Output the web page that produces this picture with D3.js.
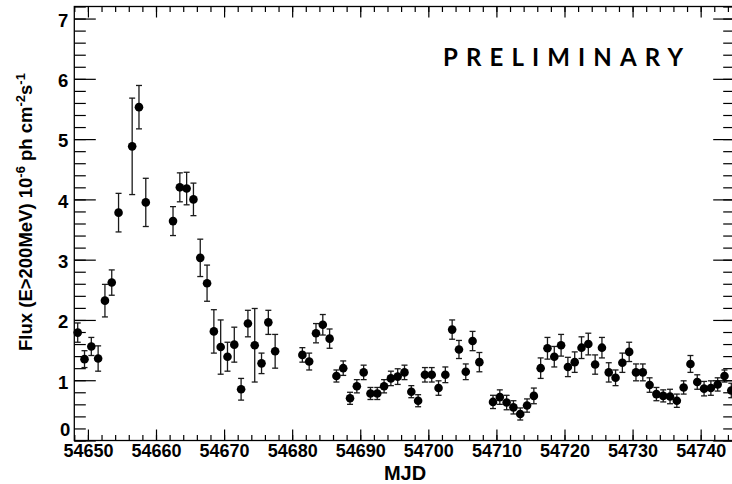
<!DOCTYPE html>
<html>
<head>
<meta charset="utf-8">
<script src="https://cdn.jsdelivr.net/npm/d3@7"></script>
<style>
  html, body { margin: 0; padding: 0; background: #fff; }
  svg { display: block; }
  .tick text { font-family: "Liberation Sans", Arial, sans-serif; font-weight: bold; }
</style>
</head>
<body>
<svg id="chart" width="732" height="484"></svg>
<script>
// Daily light curve: MJD bin centres, flux (1e-6 ph cm^-2 s^-1) and 1-sigma errors
const mjd = [
  54648.5, 54649.5, 54650.5, 54651.5, 54652.5, 54653.5, 54654.5, 54656.5, 54657.5, 54658.5,
  54662.5, 54663.5, 54664.5, 54665.5, 54666.5, 54667.5, 54668.5, 54669.5, 54670.5, 54671.5,
  54672.5, 54673.5, 54674.5, 54675.5, 54676.5, 54677.5, 54681.5, 54682.5, 54683.5, 54684.5,
  54685.5, 54686.5, 54687.5, 54688.5, 54689.5, 54690.5, 54691.5, 54692.5, 54693.5, 54694.5,
  54695.5, 54696.5, 54697.5, 54698.5, 54699.5, 54700.5, 54701.5, 54702.5, 54703.5, 54704.5,
  54705.5, 54706.5, 54707.5, 54709.5, 54710.5, 54711.5, 54712.5, 54713.5, 54714.5, 54715.5,
  54716.5, 54717.5, 54718.5, 54719.5, 54720.5, 54721.5, 54722.5, 54723.5, 54724.5, 54725.5,
  54726.5, 54727.5, 54728.5, 54729.5, 54730.5, 54731.5, 54732.5, 54733.5, 54734.5, 54735.5,
  54736.5, 54737.5, 54738.5, 54739.5, 54740.5, 54741.5, 54742.5, 54743.5, 54744.5
];
const flux = [
  1.79, 1.35, 1.56, 1.36, 2.32, 2.62, 3.78, 4.88, 5.53, 3.95,
  3.64, 4.20, 4.18, 4.00, 3.03, 2.61, 1.81, 1.55, 1.39, 1.59,
  0.85, 1.94, 1.58, 1.28, 1.96, 1.48, 1.42, 1.31, 1.78, 1.92,
  1.69, 1.07, 1.20, 0.70, 0.90, 1.13, 0.78, 0.78, 0.90, 1.03,
  1.06, 1.13, 0.81, 0.66, 1.09, 1.09, 0.87, 1.09, 1.84, 1.51,
  1.14, 1.65, 1.30, 0.64, 0.72, 0.63, 0.55, 0.44, 0.58, 0.74,
  1.20, 1.53, 1.39, 1.58, 1.22, 1.30, 1.54, 1.60, 1.26, 1.54,
  1.13, 1.04, 1.29, 1.47, 1.13, 1.13, 0.92, 0.77, 0.74, 0.73,
  0.66, 0.88, 1.27, 0.97, 0.86, 0.87, 0.93, 1.07, 0.83
];
const fluxErr = [
  0.16, 0.14, 0.15, 0.21, 0.27, 0.21, 0.32, 0.80, 0.36, 0.40,
  0.24, 0.24, 0.27, 0.27, 0.31, 0.30, 0.36, 0.45, 0.24, 0.29,
  0.18, 0.22, 0.61, 0.17, 0.20, 0.28, 0.12, 0.14, 0.16, 0.17,
  0.16, 0.10, 0.12, 0.10, 0.11, 0.12, 0.10, 0.10, 0.11, 0.12,
  0.13, 0.12, 0.10, 0.10, 0.12, 0.12, 0.12, 0.13, 0.16, 0.15,
  0.13, 0.16, 0.16, 0.11, 0.12, 0.12, 0.11, 0.10, 0.11, 0.13,
  0.17, 0.18, 0.17, 0.18, 0.16, 0.17, 0.18, 0.18, 0.16, 0.17,
  0.16, 0.13, 0.16, 0.16, 0.14, 0.14, 0.12, 0.11, 0.10, 0.12,
  0.11, 0.11, 0.14, 0.12, 0.12, 0.12, 0.11, 0.10, 0.12
];

// Axis ticks
const xMajorTicks = [54650, 54660, 54670, 54680, 54690, 54700, 54710, 54720, 54730, 54740];
const xMinorTicks = d3.range(54648, 54746, 2);
const yMajorTicks = [0, 1, 2, 3, 4, 5, 6, 7];
const yMinorTicks = d3.range(0, 7.21, 0.2);

const frame = { left: 74.3, right: 734.7, top: 6.5, bottom: 440.5 };

const x = d3.scaleLinear().domain([54648, 54745]).range([frame.left, frame.right]);
const y = d3.scaleLinear().domain([0, 7.2]).range([frame.bottom, frame.top]);

const svg = d3.select("#chart");

// Data: error bars with caps, then filled markers
const pts = mjd.map((d, i) => ({ t: d, f: flux[i], e: fluxErr[i] }));
const marks = svg.append("g").attr("class", "marks");
const bars = marks.selectAll("g.err").data(pts).join("g").attr("class", "err")
  .attr("stroke", "#1a1a1a").attr("stroke-width", 1.3);
bars.append("line")
  .attr("x1", d => x(d.t)).attr("x2", d => x(d.t))
  .attr("y1", d => y(d.f - d.e)).attr("y2", d => y(d.f + d.e));
bars.append("line")
  .attr("x1", d => x(d.t) - 3).attr("x2", d => x(d.t) + 3)
  .attr("y1", d => y(d.f + d.e)).attr("y2", d => y(d.f + d.e));
bars.append("line")
  .attr("x1", d => x(d.t) - 3).attr("x2", d => x(d.t) + 3)
  .attr("y1", d => y(d.f - d.e)).attr("y2", d => y(d.f - d.e));
marks.selectAll("circle").data(pts).join("circle")
  .attr("cx", d => x(d.t)).attr("cy", d => y(d.f)).attr("r", 4.3)
  .attr("fill", "#000");

// Frame
svg.append("rect")
  .attr("x", frame.left).attr("y", frame.top)
  .attr("width", frame.right - frame.left).attr("height", frame.bottom - frame.top)
  .attr("fill", "none").attr("stroke", "#000").attr("stroke-width", 1.3);

function styleAxis(g) {
  g.select(".domain").remove();
  g.selectAll(".tick line").attr("stroke", "#000").attr("stroke-width", 1.2);
}

// Bottom axis with inward ticks and labels
svg.append("g").attr("transform", `translate(0,${frame.bottom})`)
  .call(d3.axisBottom(x).tickValues(xMinorTicks).tickSize(-5.5).tickFormat(""))
  .call(styleAxis);
const xAx = svg.append("g").attr("transform", `translate(0,${frame.bottom})`)
  .call(d3.axisBottom(x).tickValues(xMajorTicks).tickSize(-11).tickPadding(0).tickFormat(d3.format("d")))
  .call(styleAxis);
xAx.selectAll(".tick text").attr("y", 16).attr("dy", 0)
  .attr("font-size", 18).attr("fill", "#000");

// Top axis ticks
svg.append("g").attr("transform", `translate(0,${frame.top})`)
  .call(d3.axisTop(x).tickValues(xMinorTicks).tickSize(-5.5).tickFormat(""))
  .call(styleAxis);
svg.append("g").attr("transform", `translate(0,${frame.top})`)
  .call(d3.axisTop(x).tickValues(xMajorTicks).tickSize(-11).tickFormat(""))
  .call(styleAxis);

// Left axis
svg.append("g").attr("transform", `translate(${frame.left},0)`)
  .call(d3.axisLeft(y).tickValues(yMinorTicks).tickSize(-11.5).tickFormat(""))
  .call(styleAxis);
const yAx = svg.append("g").attr("transform", `translate(${frame.left},0)`)
  .call(d3.axisLeft(y).tickValues(yMajorTicks).tickSize(-21.5).tickFormat(d3.format("d")))
  .call(styleAxis);
yAx.selectAll(".tick text").attr("x", -6).attr("dy", "0.42em")
  .attr("font-size", 18.5).attr("fill", "#000");
// the zero label sits tucked above the first x label
yAx.selectAll(".tick text").filter(d => d === 0).attr("x", -4).attr("dy", -5.5);

// Right axis ticks
svg.append("g").attr("transform", `translate(${frame.right},0)`)
  .call(d3.axisRight(y).tickValues(yMinorTicks).tickSize(-11.5).tickFormat(""))
  .call(styleAxis);
svg.append("g").attr("transform", `translate(${frame.right},0)`)
  .call(d3.axisRight(y).tickValues(yMajorTicks).tickSize(-21.5).tickFormat(""))
  .call(styleAxis);

// Axis titles
svg.append("text")
  .attr("x", 405).attr("y", 480)
  .attr("text-anchor", "middle")
  .attr("font-family", "Liberation Sans, Arial, sans-serif")
  .attr("font-weight", "bold").attr("font-size", 20)
  .text("MJD");

const yTitle = svg.append("text")
  .attr("transform", "translate(32,212) rotate(-90)")
  .attr("text-anchor", "middle")
  .attr("font-family", "Liberation Sans, Arial, sans-serif")
  .attr("font-weight", "bold").attr("font-size", 18.5);
yTitle.append("tspan").text("Flux (E>200MeV) 10");
yTitle.append("tspan").attr("dy", -7.5).attr("font-size", 13).text("-6");
yTitle.append("tspan").attr("dy", 7.5).text(" ph cm");
yTitle.append("tspan").attr("dy", -7.5).attr("font-size", 13).text("-2");
yTitle.append("tspan").attr("dy", 7.5).text("s");
yTitle.append("tspan").attr("dy", -7.5).attr("font-size", 13).text("-1");

// Watermark
svg.append("text")
  .attr("x", 443).attr("y", 66)
  .attr("font-family", "Lato, Open Sans, sans-serif")
  .attr("font-weight", 700).attr("font-size", 24)
  .attr("textLength", 240).attr("lengthAdjust", "spacing")
  .text("PRELIMINARY");
</script>
</body>
</html>
